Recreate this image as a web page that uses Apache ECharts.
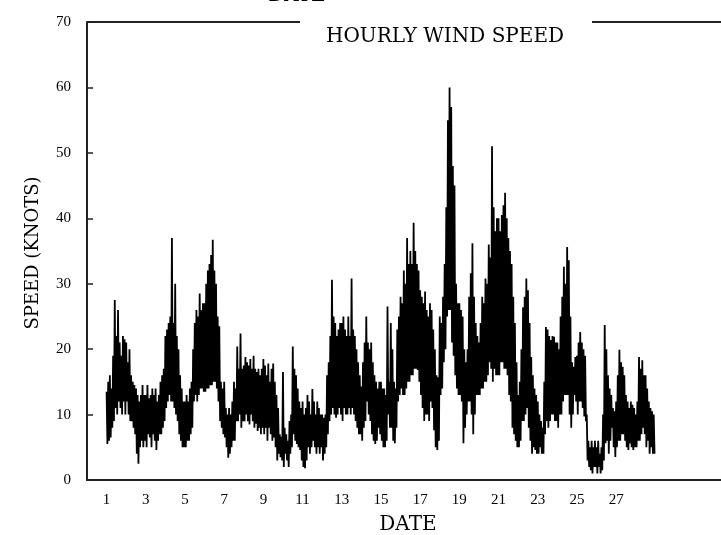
<!DOCTYPE html>
<html>
<head>
<meta charset="utf-8">
<script src="https://cdn.jsdelivr.net/npm/echarts@6/dist/echarts.min.js"></script>
<style>
html,body{margin:0;padding:0;background:#fff;}
#chart{width:721px;height:535px;}
</style>
</head>
<body>
<div id="chart"></div>
<script>
// Hourly wind speed (knots), one value per hour starting at day 1, 00h
const startDay = 1;
const stepHours = 1;
const speed = [
// day 1
13.5,5.5,15,6,16,6.5,14,8,19,9,27.5,11, 22,10,26,12,21,11,19,10,22,12,21.5,10,
// day 2
21,12,18,10,20,9,16,9,15,8,14.5,7, 14,4,13,2.5,12,5,13,6,14.5,5,13,6,
// day 3
13,5,14.5,7,12.5,6.5,13,5,14,7,13,6, 14,4.6,12,6,13,7,15,7,16,8,17,9,
// day 4
22,11,23,12,24,13,25,12,37,12,24,11, 30,10,22,9,20,7,16,6,14,5,12,5,
// day 5
12,5,13,6,12,6,14,7,15,8,20,12, 24,13,26,12,25,13,28.5,14,26,14,27,13.5,
// day 6
27,13.5,30,14,32,14,33,14.5,34.4,14.5,36.7,15, 32,15,30,14,25,12,23.5,9,15,8,14,7,
// day 7
15,6.5,11,5,10,3.4,11,4,10,5,12,6, 15,6,14,9,20.4,9,17,10,22.4,8,17,9,
// day 8
17.5,9,18.8,10,18,9,17.5,8.5,18.5,10,17,9, 19,8,17,8.6,16.5,7.5,17,8,16,7,17,8,
// day 9
18.5,7,17.5,8,16,6,17.8,8,15,7,17,6, 17.8,6.5,15,5,13,3,11,4,7,3.5,6.6,3,
// day 10
16.5,2,8,4,7,3,6,2,9,4,10,5, 20.4,7,17,6,16,5.5,14,5,12,4.6,11,3,
// day 11
12,2,10,1.8,11,3,13,5,12,4,10,5, 13.9,6,12,5,10,4,12,5,11,4,10,5,
// day 12
10,3,9.5,4,10,5,16,7,18,9,22,10, 30.6,11,25,10,24,9.5,22,10,23,11,24,10,
// day 13
24,9,25,11,23,10,22,10,25,11,22,10, 30.8,11,23,10,22,9,20,8,18,7,16,7,
// day 14
14.3,6,18,8,21,9,25,12,21,10,20,9, 21,7,18,6,16,5.5,15,6,14,8,15,7,
// day 15
15,6,14,5,14,5,13,6,26.5,10,15,8, 24,8,20,6,15,5.6,14,8,23,12,25,13,
// day 16
28,14,27,13,32,13,30,14,37,15,33,15, 35,16,33,16,39.3,17,35,17,33,16.8,32,15,
// day 17
29,13,28,11,27,9,28.8,10,26,10,25,9, 27,12,26,11,23,7.6,20,5,16,4.6,15.7,6,
// day 18
25,13,24,14,28,18,33,20,41.7,25,55,26, 60,26,57,21,48,19,45,16,30,14,27,13,
// day 19
27,13,26,12,25,5.6,20,8,18,10,20,12, 28,12,31.6,10,36.2,7,28,10,24,13,22,13,
// day 20
21,13,24,14,28,14,27,15,30.8,15,30,16, 36,18,34,17,51,15,41.7,17,38,16,40,16,
// day 21
40,16,38,18,40.5,18,42,17,43.9,17,40,16, 37,13,35,12,33,8,28,7,24,6,18,5,
// day 22
13,5,15,6,20,9,26.4,9,28,10,30.8,11, 29,8,24,6,18.8,4,16,5,14,4.6,13,4,
// day 23
12,4,10,5,9,4,8,4,15,7,23.4,9, 23,8,22,9,21.4,10,22,10,21.9,9,21,9,
// day 24
21,8,20,10,25,10,28,12,32.6,13,30,13, 35.6,13,33.6,10,25,8,18,10,17.3,13,18.8,12,
// day 25
19,10,21,12,22.6,12,21,11,20,9.7,19,9, 10,3,6,2,5,1.5,6,1,5,2,6,2,
// day 26
5,1,6,2,4,1,5,1.5,10,3,23.7,5.6, 20,6,16,4,14,6,13,8,11,5,10.5,3.5,
// day 27
12,5,16,6,19.9,6,18,7,17.3,7,16,6, 13,5,12,4.6,11,5.6,12,5,11.5,4.6,11,5,
// day 28
10,5,12,6,18.8,6,17,7,18.3,8,16,7, 16,5,14,6,12,4,11,5,10.5,4,10,4
];
const dateTicks = [1,3,5,7,9,11,13,15,17,19,21,23,25,27];
const yTicks = [0,10,20,30,40,50,60,70];
const titleText = 'HOURLY WIND SPEED';
const xName = 'DATE';
const yName = 'SPEED (KNOTS)';

const points = speed.map((v, i) => [startDay + i * stepHours / 24, v]);

const chart = echarts.init(document.getElementById('chart'), null, {renderer: 'canvas'});
const numFont = 'Liberation Serif';
chart.setOption({
  animation: false,
  backgroundColor: '#fff',
  grid: {left: 87, right: 0, top: 22, bottom: 55, containLabel: false},
  xAxis: {
    type: 'value', min: 0, max: 32.35,
    axisLine: {show: true, onZero: false, lineStyle: {color: '#222', width: 2}},
    axisTick: {show: false},
    splitLine: {show: false},
    axisLabel: {customValues: dateTicks, margin: 13, color: '#000', fontFamily: numFont, fontSize: 15}
  },
  yAxis: {
    type: 'value', min: yTicks[0], max: yTicks[yTicks.length - 1], interval: 10,
    axisLine: {show: true, lineStyle: {color: '#222', width: 2}},
    axisTick: {show: true, inside: true, length: 6, lineStyle: {color: '#222', width: 1.5}},
    splitLine: {show: false},
    axisLabel: {margin: 16, color: '#000', fontFamily: numFont, fontSize: 15}
  },
  series: [{
    type: 'line', data: points, showSymbol: false, symbol: 'none',
    lineStyle: {color: '#000', width: 1.8}, clip: false
  }],
  graphic: [
    {type: 'line', shape: {x1: 87, y1: 22, x2: 300, y2: 22}, style: {stroke: '#222', lineWidth: 2}},
    {type: 'line', shape: {x1: 592, y1: 22, x2: 721, y2: 22}, style: {stroke: '#222', lineWidth: 2}},
    {type: 'text', x: 445, y: 37, style: {text: titleText, fill: '#000', font: '20px "DejaVu Serif"', textAlign: 'center', textVerticalAlign: 'middle'}},
    {type: 'text', x: 408, y: 525, style: {text: xName, fill: '#000', font: '20px "DejaVu Serif"', textAlign: 'center', textVerticalAlign: 'middle'}},
    {type: 'text', x: 297, y: -4, style: {text: xName, fill: '#000', font: '20px "DejaVu Serif"', textAlign: 'center', textVerticalAlign: 'middle'}},
    {type: 'text', x: 33, y: 253, rotation: Math.PI / 2, style: {text: yName, fill: '#000', font: '18px "DejaVu Serif"', textAlign: 'center', textVerticalAlign: 'middle'}}
  ]
});
</script>
</body>
</html>
